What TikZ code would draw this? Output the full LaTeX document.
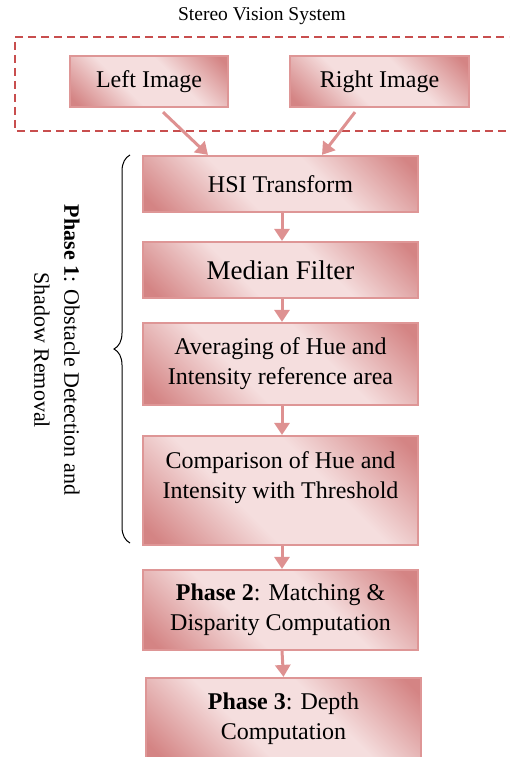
\documentclass[tikz,border=0pt]{standalone}
\usepackage{fontspec}
\setmainfont{Liberation Serif}
\usetikzlibrary{arrows.meta,decorations.pathreplacing}
\definecolor{boxdark}{RGB}{212,132,132}
\definecolor{boxlight}{RGB}{245,222,222}
\definecolor{boxedge}{RGB}{222,150,150}
\definecolor{arrowc}{RGB}{222,145,145}
\definecolor{dashc}{RGB}{200,78,78}
\pgfdeclarehorizontalshading{pinkshade}{100bp}{color(0bp)=(boxdark); color(18bp)=(boxdark); color(40bp)=(boxlight); color(60bp)=(boxlight); color(82bp)=(boxdark); color(100bp)=(boxdark)}
\tikzset{
  box/.style={draw=boxedge, line width=2.2pt, shading=pinkshade, shading angle=45,
    minimum width=275pt, align=center, inner sep=0pt,
    font=\fontsize{24}{30}\selectfont},
  flow/.style={draw=arrowc, line width=3pt, -{Triangle[width=15pt,length=12pt]}},
  brc/.style={decorate, decoration={brace, amplitude=16pt}, draw=black, line width=1pt},
}
\begin{document}
\begin{tikzpicture}[x=1pt,y=-1pt]
\clip (0,0) rectangle (509,757);
\node[font=\fontsize{19.5}{24}\selectfont] (title) at (262,16) {Stereo Vision System};
\draw[dashc, line width=2.6pt, dash pattern=on 8pt off 5pt] (530,37) -- (15,37) -- (15,131) -- (530,131);
\node[box, minimum width=158pt, minimum height=51pt] (L) at (149,81.5) {Left Image};
\node[box, minimum width=179pt, minimum height=51pt] (R) at (379.5,81.5) {Right Image};
\node[box, minimum height=56pt] (hsi) at (280.5,184) {HSI Transform};
\node[box, minimum height=56pt, font=\fontsize{27}{30}\selectfont] (med) at (280.5,270) {Median Filter};
\node[box, minimum height=82pt] (avg) at (280.5,364) {Averaging of Hue and\\Intensity reference area};
\node[box, minimum height=109pt, text depth=30pt] (cmp) at (280.5,490.5) {Comparison of Hue and\\Intensity with Threshold};
\node[box, minimum height=80pt] (ph2) at (280.5,610) {\textbf{Phase 2}: Matching \&\\Disparity Computation};
\node[box, minimum height=82pt] (ph3) at (283.5,719) {\textbf{Phase 3}: Depth\\Computation};
\node[rotate=-90, align=center, font=\fontsize{22}{30}\selectfont] (ph1) at (57,350) {\textbf{Phase 1}: Obstacle Detection and\\Shadow Removal};
\coordinate (brbot) at (130,543);
\coordinate (brtop) at (130,155);
\draw[brc] (brbot) -- (brtop);
\draw[flow] ([xshift=14pt,yshift=-4pt]L.south) -- ([xshift=-72.5pt]hsi.north);
\draw[flow] ([xshift=-24.5pt,yshift=-4pt]R.south) -- ([xshift=41.5pt]hsi.north);
\draw[flow] ([xshift=1.5pt]hsi.south) -- ([xshift=1.5pt]med.north);
\draw[flow] ([xshift=1.5pt]med.south) -- ([xshift=1.5pt]avg.north);
\draw[flow] ([xshift=1.5pt]avg.south) -- ([xshift=1.5pt]cmp.north);
\draw[flow] ([xshift=1.5pt]cmp.south) -- ([xshift=1.5pt]ph2.north);
\draw[flow] ([xshift=1.5pt]ph2.south) -- (ph3.north);
\end{tikzpicture}
\end{document}
